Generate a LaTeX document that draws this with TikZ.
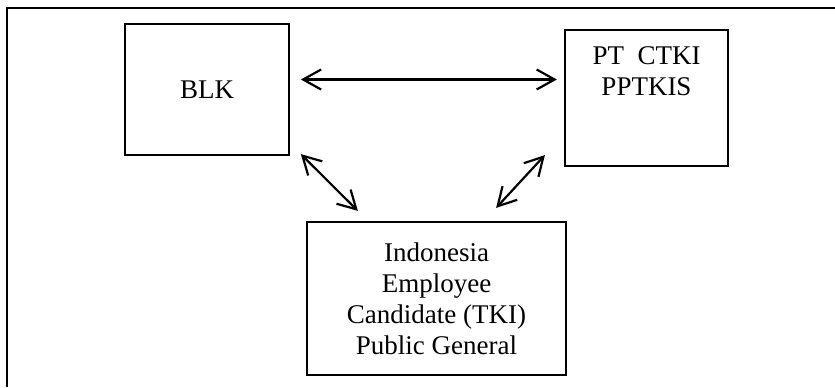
\documentclass[tikz,border=0pt]{standalone}
\usepackage{fontspec}
\setmainfont{Liberation Serif}
\usepackage{tikz}
\usetikzlibrary{arrows.meta,positioning}

\begin{document}
\begin{tikzpicture}[x=.5pt,y=-.5pt,font=\fontsize{13.5}{15.5}\selectfont,
box/.style={draw,line width=1.1pt,align=center,inner sep=0pt},
both/.style={{Straight Barb[length=9pt,width=10pt]}-{Straight Barb[length=9pt,width=10pt]},line width=1.1pt}]
\useasboundingbox(0,0)rectangle(835,387);

\draw[line width=1.1pt](835,8)--(7,8)--(7,387);

\node[box,minimum width=81.75pt,minimum height=65.5pt](blk)at(207,89.5){BLK};
\node[box,minimum width=81.5pt,minimum height=68pt,
  label={[anchor=north,align=center,inner sep=0pt,yshift=-8.5pt]north:{PT\ \ CTKI\\PPTKIS}}](pt)at(646.5,98){};
\node[box,minimum width=129.5pt,minimum height=76.5pt](tki)at(436.5,298.5)
  {Indonesia\\Employee\\Candidate (TKI)\\Public General};

\draw[both]([shift={(11,-10)}]blk.east)--([shift={(-7,-18.5)}]pt.west);
\draw[both]([shift={(11,-2)}]blk.south east)--([shift={(52,-10)}]tki.north west);
\draw[both]([shift={(-19,-12)}]pt.south west)--([shift={(-71,-13)}]tki.north east);
\end{tikzpicture}
\end{document}
